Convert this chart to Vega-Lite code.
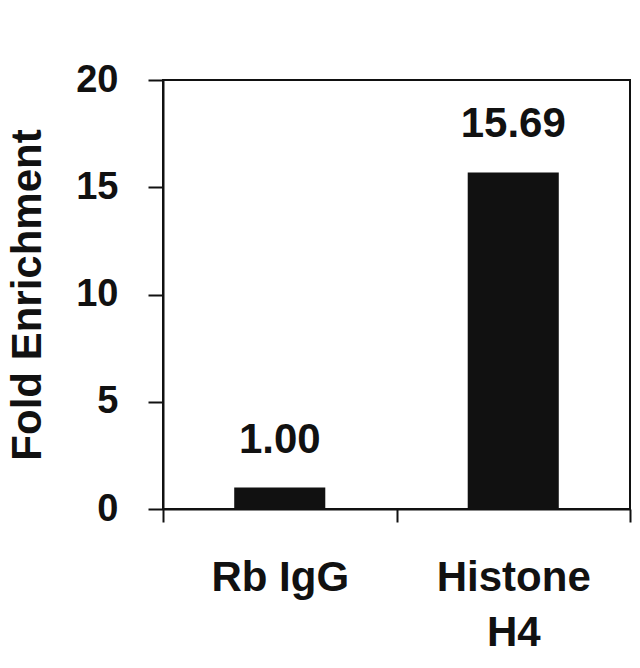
{
  "$schema": "https://vega.github.io/schema/vega-lite/v6.json",
  "autosize": {"type": "none"},
  "padding": {"left": 163, "top": 80, "right": 10, "bottom": 159},
  "width": 467,
  "height": 429,
  "background": "white",
  "data": {
    "values": [
      {"target": "Rb IgG", "fold": 1.00},
      {"target": "Histone H4", "fold": 15.69}
    ]
  },
  "encoding": {
    "x": {
      "field": "target",
      "type": "nominal",
      "sort": null,
      "scale": {"paddingInner": 0, "paddingOuter": 0},
      "title": null,
      "axis": {
        "labelAngle": 0,
        "labelFont": "Liberation Sans",
        "labelFontSize": 42,
        "labelFontWeight": "bold",
        "labelColor": "#111",
        "labelPadding": 35,
        "labelLineHeight": 55,
        "labelExpr": "datum.label == 'Histone H4' ? ['Histone', 'H4'] : datum.label",
        "tickBand": "extent",
        "tickSize": 13,
        "tickWidth": 2,
        "tickColor": "#111",
        "domainColor": "#111",
        "domainWidth": 2
      }
    },
    "y": {
      "field": "fold",
      "type": "quantitative",
      "scale": {"domain": [0, 20], "nice": false},
      "title": "Fold Enrichment",
      "axis": {
        "values": [0, 5, 10, 15, 20],
        "grid": false,
        "labelFont": "Liberation Sans",
        "labelFontSize": 38,
        "labelFontWeight": "bold",
        "labelColor": "#111",
        "labelPadding": 30,
        "tickSize": 15,
        "tickWidth": 2,
        "tickColor": "#111",
        "domainColor": "#111",
        "domainWidth": 2,
        "titleFont": "Liberation Sans",
        "titleFontSize": 42,
        "titleFontWeight": "bold",
        "titleColor": "#111",
        "titlePadding": 26
      }
    }
  },
  "layer": [
    {
      "mark": {"type": "bar", "color": "#111", "width": {"band": 0.39}}
    },
    {
      "mark": {
        "type": "text",
        "font": "Liberation Sans",
        "fontSize": 42,
        "fontWeight": "bold",
        "color": "#111",
        "baseline": "alphabetic",
        "dy": -35
      },
      "encoding": {
        "text": {"field": "fold", "type": "quantitative", "format": ".2f"}
      }
    }
  ],
  "config": {
    "view": {"stroke": "#111", "strokeWidth": 2}
  }
}
